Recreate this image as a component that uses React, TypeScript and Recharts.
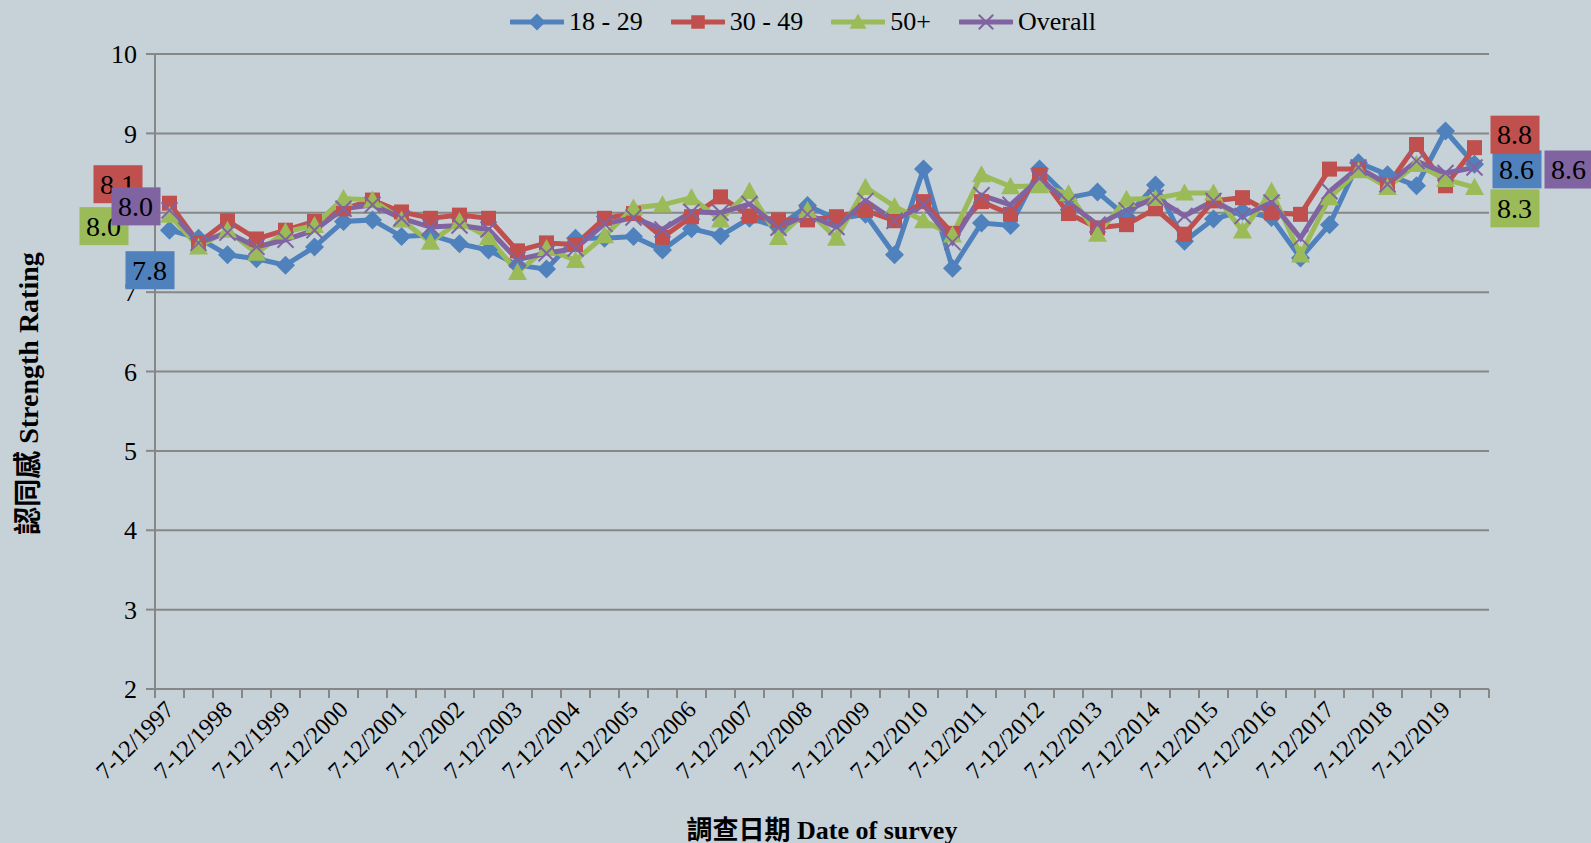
import { LineChart, Line, XAxis, YAxis, CartesianGrid, LabelList } from 'recharts';

const periods = [
  '7-12/1997', '1-6/1998', '7-12/1998', '1-6/1999', '7-12/1999', '1-6/2000',
  '7-12/2000', '1-6/2001', '7-12/2001', '1-6/2002', '7-12/2002', '1-6/2003',
  '7-12/2003', '1-6/2004', '7-12/2004', '1-6/2005', '7-12/2005', '1-6/2006',
  '7-12/2006', '1-6/2007', '7-12/2007', '1-6/2008', '7-12/2008', '1-6/2009',
  '7-12/2009', '1-6/2010', '7-12/2010', '1-6/2011', '7-12/2011', '1-6/2012',
  '7-12/2012', '1-6/2013', '7-12/2013', '1-6/2014', '7-12/2014', '1-6/2015',
  '7-12/2015', '1-6/2016', '7-12/2016', '1-6/2017', '7-12/2017', '1-6/2018',
  '7-12/2018', '1-6/2019', '7-12/2019', '1-6/2020',
];

const age18to29 = [
  7.78, 7.68, 7.47, 7.42, 7.34, 7.57, 7.89, 7.91, 7.7, 7.72, 7.61, 7.53,
  7.34, 7.29, 7.68, 7.68, 7.7, 7.53, 7.8, 7.71, 7.93, 7.82, 8.09, 7.92,
  7.98, 7.47, 8.55, 7.3, 7.87, 7.84, 8.55, 8.19, 8.26, 7.95, 8.35, 7.64,
  7.92, 8.02, 7.94, 7.43, 7.85, 8.63, 8.48, 8.34, 9.03, 8.61,
];
const age30to49 = [
  8.12, 7.62, 7.9, 7.67, 7.78, 7.89, 8.05, 8.16, 8.01, 7.93, 7.97, 7.93,
  7.52, 7.62, 7.6, 7.93, 7.99, 7.69, 7.95, 8.2, 7.96, 7.91, 7.91, 7.95,
  8.03, 7.9, 8.14, 7.74, 8.14, 7.98, 8.48, 7.99, 7.81, 7.85, 8.05, 7.73,
  8.15, 8.19, 8.0, 7.98, 8.55, 8.55, 8.34, 8.86, 8.34, 8.82,
];
const age50plus = [
  7.97, 7.57, 7.78, 7.49, 7.76, 7.84, 8.18, 8.16, 7.91, 7.63, 7.89, 7.69,
  7.25, 7.55, 7.4, 7.71, 8.06, 8.1, 8.19, 7.91, 8.27, 7.69, 8.03, 7.68,
  8.32, 8.08, 7.9, 7.72, 8.48, 8.33, 8.34, 8.24, 7.73, 8.17, 8.18, 8.25,
  8.25, 7.77, 8.27, 7.47, 8.19, 8.53, 8.32, 8.61, 8.42, 8.32,
];
const overall = [
  8.03, 7.62, 7.75, 7.57, 7.66, 7.78, 8.05, 8.1, 7.93, 7.82, 7.84, 7.79,
  7.41, 7.49, 7.55, 7.86, 7.94, 7.79, 8.01, 8.0, 8.11, 7.81, 7.98, 7.82,
  8.15, 7.9, 8.1, 7.63, 8.22, 8.1, 8.43, 8.13, 7.85, 8.03, 8.19, 7.96,
  8.15, 7.96, 8.13, 7.68, 8.27, 8.57, 8.36, 8.65, 8.5, 8.57,
];

const yTicks = [2, 3, 4, 5, 6, 7, 8, 9, 10];

const rows = periods.map((period, i) => ({
  period,
  young: age18to29[i],
  middle: age30to49[i],
  older: age50plus[i],
  overall: overall[i],
}));

const BG = '#C6D1D8';
const AXIS = '#878787';
const FONT = "'Liberation Serif', 'Noto Sans CJK TC', serif";

type Shape = 'diamond' | 'square' | 'triangle' | 'cross';

interface Series {
  key: string;
  name: string;
  color: string;
  shape: Shape;
  left: [number, number];
  right: [number, number];
}

// label box offsets (from the first / last point)
const series: Series[] = [
  { key: 'young', name: '18 - 29', color: '#4F81BD', shape: 'diamond', left: [-20, 40], right: [42, 5] },
  { key: 'middle', name: '30 - 49', color: '#C0504D', shape: 'square', left: [-52, -19], right: [40, -13] },
  { key: 'older', name: '50+', color: '#9BBB59', shape: 'triangle', left: [-66, 11], right: [40, 21] },
  { key: 'overall', name: 'Overall', color: '#8064A2', shape: 'cross', left: [-34, -4], right: [94, 2] },
];

function Marker({ shape, cx, cy, color, k = 1 }: { shape: Shape; cx: number; cy: number; color: string; k?: number }) {
  if (cx == null || cy == null) return null;
  if (shape === 'diamond') {
    const r = 9.5 * k;
    return <polygon points={`${cx},${cy - r} ${cx + r},${cy} ${cx},${cy + r} ${cx - r},${cy}`} fill={color} />;
  }
  if (shape === 'square') {
    const r = 7.5 * k;
    return <rect x={cx - r} y={cy - r} width={2 * r} height={2 * r} fill={color} />;
  }
  if (shape === 'triangle') {
    const r = 9.5 * k;
    return <polygon points={`${cx},${cy - r} ${cx + r},${cy + r * 0.8} ${cx - r},${cy + r * 0.8}`} fill={color} />;
  }
  const r = 8 * k;
  return (
    <g stroke={color} strokeWidth={2}>
      <line x1={cx - r} y1={cy - r} x2={cx + r} y2={cy + r} />
      <line x1={cx - r} y1={cy + r} x2={cx + r} y2={cy - r} />
    </g>
  );
}

function PeriodTick(props: any) {
  const { x, y, payload, index, width, visibleTicksCount } = props;
  const step = width && visibleTicksCount ? width / visibleTicksCount : 29;
  const tx = x + 6;
  const ty = y + 22;
  return (
    <g>
      <line x1={x - step / 2} x2={x - step / 2} y1={y} y2={y + 9} stroke={AXIS} strokeWidth={2} />
      {index === periods.length - 1 && (
        <line x1={x + step / 2} x2={x + step / 2} y1={y} y2={y + 9} stroke={AXIS} strokeWidth={2} />
      )}
      {index % 2 === 0 && (
        <text x={tx} y={ty} transform={`rotate(-45 ${tx} ${ty})`} textAnchor="end" fontSize={24} fill="#000">
          {payload.value}
        </text>
      )}
    </g>
  );
}

const endLabel = (s: Series) => (props: any) => {
  const { index, value } = props;
  if (index !== 0 && index !== periods.length - 1) return null;
  const x = props.x ?? props.viewBox?.x;
  const y = props.y ?? props.viewBox?.y;
  const [dx, dy] = index === 0 ? s.left : s.right;
  const cx = x + dx;
  const cy = y + dy;
  return (
    <g key={`${s.key}-lbl-${index}`}>
      <rect x={cx - 24} y={cy - 19} width={49} height={38} fill={s.color} />
      <text x={cx} y={cy} textAnchor="middle" dominantBaseline="central" fontSize={28} fill="#000">
        {Number(value).toFixed(1)}
      </text>
    </g>
  );
};

function ChartLegend() {
  return (
    <div
      style={{
        position: 'absolute',
        top: 0,
        left: 0,
        width: 1591,
        height: 44,
        display: 'flex',
        justifyContent: 'center',
        alignItems: 'center',
        gap: 28,
        paddingLeft: 15,
        boxSizing: 'border-box',
        fontSize: 26,
        fontFamily: FONT,
      }}
    >
      {series.map((s) => (
        <div key={s.key} style={{ display: 'flex', alignItems: 'center' }}>
          <svg width={54} height={22} style={{ marginRight: 5 }}>
            <line x1={1} x2={53} y1={11} y2={11} stroke={s.color} strokeWidth={5} strokeLinecap="round" />
            <Marker shape={s.shape} cx={27} cy={11} color={s.color} k={0.9} />
          </svg>
          <span>{s.name}</span>
        </div>
      ))}
    </div>
  );
}

export default function App() {
  return (
    <div style={{ position: 'absolute', left: 0, top: 0, width: 1591, height: 843, background: BG, fontFamily: FONT }}>
      <LineChart
        width={1591}
        height={843}
        data={rows}
        margin={{ top: 54, right: 102, bottom: 0, left: 0 }}
        style={{ fontFamily: FONT }}
      >
        <CartesianGrid vertical={false} stroke={AXIS} strokeWidth={2} />
        <XAxis
          dataKey="period"
          interval={0}
          height={154}
          padding={{ left: 14.5, right: 14.5 }}
          tickLine={false}
          tickSize={0}
          tickMargin={0}
          axisLine={{ stroke: AXIS, strokeWidth: 2 }}
          tick={<PeriodTick />}
          label={{
            content: (p: any) => {
              const vb = p.viewBox || { x: 155, y: 689, width: 1334, height: 154 };
              return (
                <text
                  x={vb.x + vb.width / 2}
                  y={830}
                  textAnchor="middle"
                  dominantBaseline="central"
                  fontSize={26}
                  fontWeight="bold"
                  fill="#000"
                >
                  調查日期 Date of survey
                </text>
              );
            },
          }}
        />
        <YAxis
          type="number"
          domain={[2, 10]}
          ticks={yTicks}
          width={155}
          tickSize={9}
          tickMargin={9}
          tickLine={{ stroke: AXIS, strokeWidth: 2 }}
          axisLine={{ stroke: AXIS, strokeWidth: 2 }}
          tick={{ fontSize: 26, fill: '#000' }}
          label={{
            content: (p: any) => {
              const vb = p.viewBox || { x: 0, y: 54, width: 155, height: 635 };
              const lx = vb.x + 28;
              const ly = vb.y + vb.height / 2 + 22;
              return (
                <text
                  x={lx}
                  y={ly}
                  transform={`rotate(-90 ${lx} ${ly})`}
                  textAnchor="middle"
                  dominantBaseline="central"
                  fontSize={28}
                  fontWeight="bold"
                  fill="#000"
                >
                  認同感 Strength Rating
                </text>
              );
            },
          }}
        />
        {series.map((s) => (
          <Line
            key={s.key}
            type="linear"
            dataKey={s.key}
            name={s.name}
            stroke={s.color}
            strokeWidth={5}
            isAnimationActive={false}
            activeDot={false}
            dot={(p: any) => <Marker key={`${s.key}-${p.index}`} shape={s.shape} cx={p.cx} cy={p.cy} color={s.color} />}
          >
            <LabelList dataKey={s.key} content={endLabel(s)} />
          </Line>
        ))}
      </LineChart>
      <ChartLegend />
    </div>
  );
}
